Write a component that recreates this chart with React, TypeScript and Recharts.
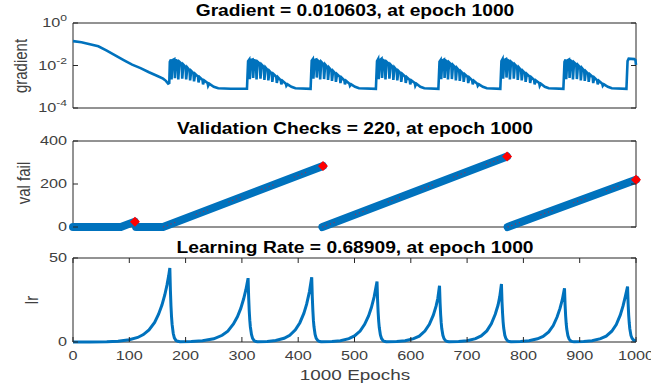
import React from "react";
import { LineChart, Line, XAxis, YAxis, ReferenceArea } from "recharts";

// epochs on the shared x axis
const epochTicks = [0, 100, 200, 300, 400, 500, 600, 700, 800, 900, 1000];
const gradTicks = [1e-4, 1e-2, 1];
const valTicks = [0, 200, 400];
const lrTicks = [0, 50];

const titles = [
  "Gradient = 0.010603, at epoch 1000",
  "Validation Checks = 220, at epoch 1000",
  "Learning Rate = 0.68909, at epoch 1000",
];
const yLabels = ["gradient", "val fail", "lr"];
const xLabel = "1000 Epochs";

// [epoch, gradient]
const gradPoints: [number, number][] = [
  [0, 0.14], [15, 0.125], [30, 0.1], [45, 0.08], [60, 0.05], [75, 0.03], [90, 0.018],
  [105, 0.011], [120, 0.0075], [135, 0.0048], [150, 0.0032], [160, 0.0024], [165, 0.0019],
  [169, 0.0014], [171, 0.0015],
  [172, 0.015], [174, 0.019], [175, 0.0022], [177, 0.018], [180, 0.02], [181, 0.0025], [183, 0.018],
  [186, 0.016], [187, 0.0022], [189, 0.015], [193, 0.012], [194, 0.0024], [196, 0.011], [200, 0.0085],
  [201, 0.0022], [203, 0.008], [207, 0.006], [208, 0.002], [210, 0.0056], [214, 0.0043], [215, 0.0018],
  [217, 0.004], [222, 0.003], [223, 0.0016], [225, 0.0028], [230, 0.0021], [231, 0.0013], [233, 0.002],
  [239, 0.0015], [240, 0.0011], [242, 0.0014], [250, 0.001], [258, 0.00085], [280, 0.0008], [309, 0.0008],
  [311, 0.016], [313, 0.019], [314, 0.0023], [316, 0.018], [319, 0.019], [320, 0.0026], [322, 0.018],
  [325, 0.016], [326, 0.0022], [328, 0.015], [332, 0.012], [333, 0.0024], [335, 0.011], [339, 0.0085],
  [340, 0.0021], [342, 0.008], [346, 0.006], [347, 0.002], [349, 0.0055], [353, 0.0042], [354, 0.0017],
  [356, 0.004], [361, 0.003], [362, 0.0015], [364, 0.0028], [369, 0.002], [370, 0.0013], [372, 0.0019],
  [378, 0.0014], [379, 0.0011], [381, 0.0013], [388, 0.001], [395, 0.00085], [422, 0.0008],
  [424, 0.017], [426, 0.02], [427, 0.0024], [429, 0.018], [432, 0.019], [433, 0.0027], [435, 0.017],
  [438, 0.015], [439, 0.0022], [441, 0.015], [445, 0.0115], [446, 0.0023], [448, 0.011], [452, 0.0082],
  [453, 0.0021], [455, 0.0078], [459, 0.0058], [460, 0.0019], [462, 0.0055], [466, 0.0042], [467, 0.0017],
  [469, 0.0039], [474, 0.0029], [475, 0.0015], [477, 0.0027], [482, 0.002], [483, 0.0013], [485, 0.0019],
  [491, 0.0014], [492, 0.0011], [494, 0.0013], [501, 0.001], [508, 0.00085], [538, 0.0008],
  [540, 0.016], [542, 0.02], [543, 0.0023], [545, 0.018], [548, 0.021], [549, 0.0026], [551, 0.018],
  [554, 0.016], [555, 0.0022], [557, 0.015], [561, 0.012], [562, 0.0024], [564, 0.011], [568, 0.0085],
  [569, 0.0021], [571, 0.008], [575, 0.006], [576, 0.002], [578, 0.0056], [582, 0.0043], [583, 0.0017],
  [585, 0.004], [590, 0.003], [591, 0.0015], [593, 0.0028], [598, 0.0021], [599, 0.0013], [601, 0.002],
  [607, 0.0015], [608, 0.0011], [610, 0.0014], [617, 0.001], [624, 0.00085], [649, 0.0008],
  [651, 0.015], [653, 0.018], [654, 0.0023], [656, 0.017], [659, 0.019], [660, 0.0026], [662, 0.017],
  [665, 0.015], [666, 0.0022], [668, 0.014], [672, 0.011], [673, 0.0023], [675, 0.0105], [679, 0.008],
  [680, 0.002], [682, 0.0076], [686, 0.0057], [687, 0.0019], [689, 0.0053], [693, 0.0041], [694, 0.0017],
  [696, 0.0038], [701, 0.0029], [702, 0.0015], [704, 0.0027], [709, 0.002], [710, 0.0013], [712, 0.0019],
  [718, 0.0014], [719, 0.0011], [721, 0.0013], [728, 0.001], [735, 0.00085], [759, 0.0008],
  [761, 0.016], [763, 0.02], [764, 0.0024], [766, 0.018], [769, 0.02], [770, 0.0027], [772, 0.018],
  [775, 0.016], [776, 0.0022], [778, 0.015], [782, 0.012], [783, 0.0024], [785, 0.011], [789, 0.0085],
  [790, 0.0021], [792, 0.008], [796, 0.006], [797, 0.002], [799, 0.0056], [803, 0.0043], [804, 0.0017],
  [806, 0.004], [811, 0.003], [812, 0.0015], [814, 0.0028], [819, 0.0021], [820, 0.0013], [822, 0.002],
  [828, 0.0015], [829, 0.0011], [831, 0.0014], [838, 0.001], [845, 0.00085], [871, 0.0008],
  [873, 0.015], [875, 0.019], [876, 0.0023], [878, 0.017], [881, 0.019], [882, 0.0026], [884, 0.017],
  [887, 0.015], [888, 0.0022], [890, 0.014], [894, 0.011], [895, 0.0023], [897, 0.0105], [901, 0.008],
  [902, 0.002], [904, 0.0076], [908, 0.0057], [909, 0.0019], [911, 0.0053], [915, 0.0041], [916, 0.0017],
  [918, 0.0038], [923, 0.0029], [924, 0.0015], [926, 0.0027], [931, 0.002], [932, 0.0013], [934, 0.0019],
  [940, 0.0014], [941, 0.0011], [943, 0.0013], [950, 0.001], [957, 0.00085], [983, 0.0008],
  [985, 0.016], [987, 0.021], [997, 0.02], [999, 0.018], [1000, 0.0106],
];

// validation failure runs, [epoch, count]
const valRun1: [number, number][] = [[0, 0], [85, 0], [110, 25]];
const valRun2: [number, number][] = [[112, 0], [160, 0], [444, 284]];
const valRun3: [number, number][] = [[443, 0], [771, 328]];
const valRun4: [number, number][] = [[772, 0], [1000, 220]];
const valMarks: [number, number][] = [[110, 25], [444, 284], [771, 328], [1000, 220]];

// [epoch, learning rate]
const lrPoints: [number, number][] = [
  [0, 0.01], [30, 0.05], [60, 0.19], [80, 0.5], [100, 1.3], [115, 2.7], [125, 4.4], [135, 7.2],
  [145, 11.7], [152, 16.5], [158, 22], [163, 28], [167, 34], [170, 39.5], [172, 44],
  [173, 30.8], [174, 21.6], [175, 15.1], [176, 10.6], [178, 5.2], [180, 2.5], [183, 0.9], [186, 0.4], [190, 0.1],
  [210, 0.27], [230, 0.7], [250, 1.9], [265, 4], [275, 6.5], [285, 10.7], [292, 15], [298, 20],
  [303, 25.6], [307, 31], [311, 38],
  [312, 26.6], [313, 18.6], [314, 13], [315, 9.1], [317, 4.5], [319, 2.2], [322, 0.75], [325, 0.26], [328, 0.12],
  [345, 0.35], [360, 0.9], [375, 2.2], [385, 4], [395, 7.2], [403, 11.5], [410, 17], [415, 22.5],
  [420, 30], [424, 38.5],
  [425, 27], [426, 19], [427, 13], [428, 9.2], [430, 4.5], [432, 2.2], [435, 0.8], [438, 0.3], [441, 0.12],
  [460, 0.35], [475, 0.8], [490, 2], [500, 3.6], [510, 6.5], [518, 10.5], [525, 15.5], [530, 20.5],
  [535, 27], [540, 36],
  [541, 25], [542, 17.6], [543, 12.3], [544, 8.6], [546, 4.2], [548, 2.1], [551, 0.7], [554, 0.25], [557, 0.1],
  [575, 0.3], [590, 0.75], [605, 2], [615, 3.5], [625, 6.5], [633, 10.5], [640, 16], [645, 21.5],
  [648, 26], [651, 33.5],
  [652, 23.5], [653, 16.4], [654, 11.5], [655, 8], [657, 4], [659, 2], [662, 0.7], [665, 0.25], [668, 0.1],
  [685, 0.3], [700, 0.8], [715, 2], [725, 3.6], [735, 6.6], [743, 10.8], [750, 16.5], [755, 22],
  [758, 27], [761, 34.5],
  [762, 24], [763, 17], [764, 11.8], [765, 8.3], [767, 4], [769, 2], [772, 0.7], [775, 0.25], [778, 0.1],
  [795, 0.3], [810, 0.75], [825, 1.9], [835, 3.3], [845, 6], [853, 9.8], [860, 15], [865, 20],
  [869, 25], [873, 32],
  [874, 22.4], [875, 15.7], [876, 11], [877, 7.7], [879, 3.8], [881, 1.9], [884, 0.6], [887, 0.22], [890, 0.1],
  [907, 0.3], [922, 0.8], [937, 2], [947, 3.5], [957, 6.4], [965, 10.4], [972, 16], [977, 21.5],
  [981, 27], [985, 33],
  [986, 23], [987, 16], [988, 11.3], [989, 7.9], [991, 3.9], [993, 2.2], [996, 1.0], [1000, 0.689],
];

const BLUE = "#0072BD";
const AXIS = "#262626";
const TEXT = "#404040";
const W = 651;
const LEFT = 73;
const RIGHT = 636;
const FONT = "'Liberation Sans', Arial, sans-serif";

const toRows = (pts: [number, number][]) => pts.map(([epoch, v]) => ({ epoch, v }));

const makeXTick = (top: number, bottom: number, labels: boolean) => (p: any) => (
  <g key={p.index}>
    <line x1={p.x} x2={p.x} y1={bottom} y2={bottom - 5} stroke={AXIS} />
    <line x1={p.x} x2={p.x} y1={top} y2={top + 5} stroke={AXIS} />
    {labels && (
      <text
        transform={`translate(${p.x},${bottom + 14}) scale(1.35,1)`}
        textAnchor="middle"
        dy="0.35em"
        fontSize={12}
        fontFamily={FONT}
        fill={TEXT}
      >
        {p.payload.value}
      </text>
    )}
  </g>
);

const makeYTick = (log: boolean) => (p: any) => {
  const v = p.payload.value;
  return (
    <g key={p.index}>
      <line x1={LEFT} x2={LEFT + 5} y1={p.y} y2={p.y} stroke={AXIS} />
      <line x1={RIGHT} x2={RIGHT - 5} y1={p.y} y2={p.y} stroke={AXIS} />
      <text
        transform={`translate(${LEFT - 6},${p.y}) scale(1.35,1)`}
        textAnchor="end"
        dy="0.35em"
        fontSize={12}
        fontFamily={FONT}
        fill={TEXT}
      >
        {log ? (
          <>
            <tspan>10</tspan>
            <tspan dy={-6} fontSize={9}>{Math.round(Math.log10(v))}</tspan>
          </>
        ) : (
          v
        )}
      </text>
    </g>
  );
};

const Diamond = (p: any) => {
  const { cx, cy, index } = p;
  if (cx == null || cy == null) return <g key={index} />;
  const r = 5;
  return (
    <polygon
      key={index}
      points={`${cx},${cy - r} ${cx + r},${cy} ${cx},${cy + r} ${cx - r},${cy}`}
      fill="#FF0000"
    />
  );
};

const HText = ({ x, y, size, bold, color, scale, children }: any) => (
  <div
    style={{
      position: "absolute",
      left: x,
      top: y,
      transform: `translate(-50%,-50%) scaleX(${scale})`,
      fontSize: size,
      fontWeight: bold ? "bold" : "normal",
      color,
      whiteSpace: "nowrap",
      lineHeight: 1,
    }}
  >
    {children}
  </div>
);

const VText = ({ x, y, children }: any) => (
  <div
    style={{
      position: "absolute",
      left: x,
      top: y,
      transform: "translate(-50%,-50%) rotate(-90deg) scaleY(1.2)",
      fontSize: 15,
      color: TEXT,
      whiteSpace: "nowrap",
      lineHeight: 1,
    }}
  >
    {children}
  </div>
);

export default function App() {
  const cx = (LEFT + RIGHT) / 2;
  return (
    <div
      style={{
        position: "absolute",
        left: 0,
        top: 0,
        width: W,
        height: 387,
        background: "#fff",
        fontFamily: FONT,
      }}
    >
      {/* gradient, log scale */}
      <div style={{ position: "absolute", left: 0, top: 0 }}>
        <LineChart width={W} height={120} margin={{ top: 23, right: W - RIGHT, bottom: 12, left: 0 }}>
          <XAxis
            type="number"
            dataKey="epoch"
            domain={[0, 1000]}
            ticks={epochTicks}
            interval={0}
            height={0}
            axisLine={false}
            tickLine={false}
            tick={makeXTick(23, 108, false)}
          />
          <YAxis
            type="number"
            scale="log"
            domain={[1e-4, 1]}
            allowDataOverflow
            ticks={gradTicks}
            interval={0}
            width={LEFT}
            axisLine={false}
            tickLine={false}
            tick={makeYTick(true)}
          />
          <ReferenceArea x1={0} x2={1000} y1={1e-4} y2={1} fill="none" stroke={AXIS} strokeWidth={1} />
          <Line
            data={toRows(gradPoints)}
            dataKey="v"
            stroke={BLUE}
            strokeWidth={2.6}
            dot={false}
            isAnimationActive={false}
          />
        </LineChart>
      </div>

      {/* validation checks */}
      <div style={{ position: "absolute", left: 0, top: 120 }}>
        <LineChart width={W} height={115} margin={{ top: 21, right: W - RIGHT, bottom: 8, left: 0 }}>
          <XAxis
            type="number"
            dataKey="epoch"
            domain={[0, 1000]}
            ticks={epochTicks}
            interval={0}
            height={0}
            axisLine={false}
            tickLine={false}
            tick={makeXTick(21, 107, false)}
          />
          <YAxis
            type="number"
            domain={[0, 400]}
            ticks={valTicks}
            interval={0}
            width={LEFT}
            axisLine={false}
            tickLine={false}
            tick={makeYTick(false)}
          />
          <ReferenceArea x1={0} x2={1000} y1={0} y2={400} fill="none" stroke={AXIS} strokeWidth={1} />
          {[valRun1, valRun2, valRun3, valRun4].map((run, i) => (
            <Line
              key={"run" + i}
              data={toRows(run)}
              dataKey="v"
              stroke={BLUE}
              strokeWidth={8}
              strokeLinecap="round"
              dot={false}
              isAnimationActive={false}
            />
          ))}
          {[valRun2, valRun3, valRun4].map((run, i) => (
            <Line
              key={"mark" + i}
              data={toRows(run.slice(-2))}
              dataKey="v"
              stroke="#A0304A"
              strokeWidth={1.2}
              strokeDasharray="1 3 1 3 1 3 1 22"
              dot={false}
              isAnimationActive={false}
            />
          ))}
          <Line
            data={toRows(valMarks)}
            dataKey="v"
            stroke="none"
            dot={Diamond}
            isAnimationActive={false}
          />
        </LineChart>
      </div>

      {/* learning rate */}
      <div style={{ position: "absolute", left: 0, top: 235 }}>
        <LineChart width={W} height={152} margin={{ top: 23, right: W - RIGHT, bottom: 0, left: 0 }}>
          <XAxis
            type="number"
            dataKey="epoch"
            domain={[0, 1000]}
            ticks={epochTicks}
            interval={0}
            height={45}
            axisLine={false}
            tickLine={false}
            tick={makeXTick(23, 107, true)}
          />
          <YAxis
            type="number"
            domain={[0, 50]}
            ticks={lrTicks}
            interval={0}
            width={LEFT}
            axisLine={false}
            tickLine={false}
            tick={makeYTick(false)}
          />
          <ReferenceArea x1={0} x2={1000} y1={0} y2={50} fill="none" stroke={AXIS} strokeWidth={1} />
          <Line
            data={toRows(lrPoints)}
            dataKey="v"
            stroke={BLUE}
            strokeWidth={3}
            dot={false}
            isAnimationActive={false}
          />
        </LineChart>
      </div>

      <HText x={cx} y={11} size={16} bold color="#000" scale={1.2}>{titles[0]}</HText>
      <HText x={cx} y={129} size={16} bold color="#000" scale={1.2}>{titles[1]}</HText>
      <HText x={cx} y={248} size={16} bold color="#000" scale={1.2}>{titles[2]}</HText>
      <HText x={cx} y={375} size={14} color={TEXT} scale={1.35}>{xLabel}</HText>
      <VText x={20} y={66}>{yLabels[0]}</VText>
      <VText x={23} y={183}>{yLabels[1]}</VText>
      <VText x={31} y={300}>{yLabels[2]}</VText>
    </div>
  );
}
